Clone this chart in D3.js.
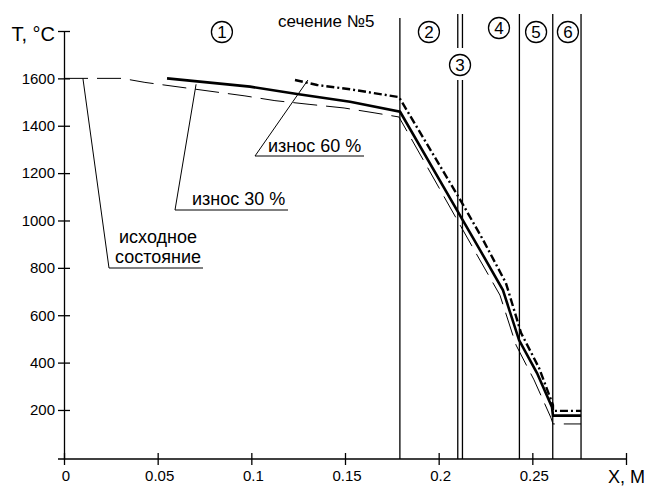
<!DOCTYPE html>
<html>
<head>
<meta charset="utf-8">
<script src="https://cdn.jsdelivr.net/npm/d3@7"></script>
<style>
body { margin: 0; background: #fff; }
svg { display: block; font-family: "Liberation Sans", Arial, sans-serif; }
</style>
</head>
<body>
<svg id="chart" width="645" height="486"></svg>
<script>
// axis ticks
const xTicks = [0, 0.05, 0.1, 0.15, 0.2, 0.25, 0.3];
const xTickLabels = ["0", "0.05", "0.1", "0.15", "0.2", "0.25", "X, M"];
const yTicks = [200, 400, 600, 800, 1000, 1200, 1400, 1600, 1800];
const yTickLabels = ["200", "400", "600", "800", "1000", "1200", "1400", "1600", "T, °C"];

// исходное состояние (thin dashed)
const initialX = [0, 0.031, 0.0432, 0.0966, 0.1126, 0.1313, 0.1495, 0.166, 0.1788, 0.2087, 0.2205, 0.2327, 0.2413, 0.2509, 0.26, 0.261, 0.276];
const initialT = [1600, 1600, 1583, 1526, 1506, 1490, 1475, 1454, 1437, 1019, 854, 685, 474, 327, 166, 141, 141];

// износ 30 % (thick solid)
const wear30X = [0.055, 0.0993, 0.1244, 0.1527, 0.1794, 0.2103, 0.2221, 0.2343, 0.2429, 0.2525, 0.2605, 0.261, 0.276];
const wear30T = [1600, 1565, 1534, 1501, 1459, 1036, 875, 706, 495, 356, 212, 176, 176];

// износ 60 % (dash-dot)
const wear60X = [0.1233, 0.1351, 0.1527, 0.1788, 0.2119, 0.2237, 0.2359, 0.244, 0.2536, 0.261, 0.261, 0.276];
const wear60T = [1593, 1572, 1554, 1521, 1082, 918, 736, 525, 377, 221, 196, 196];

// section boundaries and zone numbers
const sectionX = [0.1793, 0.2102, 0.2127, 0.2431, 0.2609, 0.276];
const zoneNames = ["1", "2", "3", "4", "5", "6"];
const zoneX = [0.0843, 0.1948, 0.2114, 0.2322, 0.252, 0.269];
const zoneY = [32, 32, 65, 28, 32, 32];

// leader labels
const labelLines = [["исходное", "состояние"], ["износ 30 %"], ["износ 60 %"]];
const labelAnchorX = [0.0101, 0.0705, 0.1302];
const labelAnchorT = [1600, 1575, 1593];

const svg = d3.select("#chart");
const x = d3.scaleLinear().domain([0, 0.3]).range([64, 626]);
const y = d3.scaleLinear().domain([-7, 1800]).range([459, 31]);

svg.append("rect").attr("width", 645).attr("height", 486).attr("fill", "#fff");

// x axis
const gx = svg.append("g")
    .attr("transform", `translate(0,${y(-7)})`)
    .call(d3.axisBottom(x).tickValues(xTicks)
        .tickFormat((d, i) => xTickLabels[i])
        .tickSize(6).tickSizeOuter(0).tickPadding(5));
gx.select(".domain").attr("d", `M${x(0) - 6},0H${x(0.3)}`);
gx.selectAll(".tick line").attr("y1", -6).attr("y2", 6);
gx.selectAll(".tick text").attr("font-size", 15).attr("font-family", null).attr("dx", 1.5);
gx.selectAll(".tick text").filter((d, i) => i === xTicks.length - 1)
    .attr("font-size", 18).attr("dx", 0);

// y axis
const gy = svg.append("g")
    .attr("transform", `translate(${x(0)},0)`)
    .call(d3.axisLeft(y).tickValues(yTicks)
        .tickFormat((d, i) => yTickLabels[i])
        .tickSize(6).tickSizeOuter(0).tickPadding(3));
gy.selectAll(".tick line").attr("x1", 6).attr("x2", -6);
gy.selectAll(".tick text").attr("font-size", 15).attr("font-family", null);
gy.selectAll(".tick text").filter((d, i) => i === yTicks.length - 1)
    .attr("font-size", 20).attr("dy", "0.45em");
svg.selectAll(".domain, .tick line").attr("stroke", "#000").attr("stroke-width", 1.3);

// section lines
const gapTop = 48, gapBottom = 80;
sectionX.forEach((sx, i) => {
    const top = i === 0 ? 18 : 14;
    const segs = (i === 1 || i === 2) ? [[top, gapTop], [gapBottom, y(-7)]] : [[top, y(-7)]];
    segs.forEach(s => {
        svg.append("line")
            .attr("x1", x(sx)).attr("x2", x(sx))
            .attr("y1", s[0]).attr("y2", s[1])
            .attr("stroke", "#000").attr("stroke-width", 1.3);
    });
});

// curves
const line = d3.line().x(d => x(d[0])).y(d => y(d[1]));
svg.append("path").datum(d3.zip(initialX, initialT))
    .attr("d", line).attr("fill", "none")
    .attr("stroke", "#000").attr("stroke-width", 1)
    .attr("stroke-dasharray", "24,9");
svg.append("path").datum(d3.zip(wear30X, wear30T))
    .attr("d", line).attr("fill", "none")
    .attr("stroke", "#000").attr("stroke-width", 2.6);
svg.append("path").datum(d3.zip(wear60X, wear60T))
    .attr("d", line).attr("fill", "none")
    .attr("stroke", "#000").attr("stroke-width", 2.4)
    .attr("stroke-dasharray", "8,3,2,3");

// zone circles
const zones = svg.selectAll(".zone").data(zoneNames).enter().append("g")
    .attr("class", "zone")
    .attr("transform", (d, i) => `translate(${x(zoneX[i])},${zoneY[i]})`);
zones.append("ellipse").attr("rx", 10.5).attr("ry", 10.5)
    .attr("fill", "#fff").attr("stroke", "#000").attr("stroke-width", 1.3);
zones.append("text").text(d => d)
    .attr("text-anchor", "middle").attr("dy", "0.36em")
    .attr("font-size", 17);

svg.append("text").text("сечение №5")
    .attr("x", 278).attr("y", 27).attr("font-size", 17);

// leader labels: elbow point, underline end, text start, baselines
const leaderLayout = [
    { ex: 109, ey: 268, ux: 203, tx: 158, anchor: "middle", base: [243, 263] },
    { ex: 175, ey: 210, ux: 288, tx: 192, anchor: "start", base: [205] },
    { ex: 255, ey: 156, ux: 364, tx: 268, anchor: "start", base: [152] }
];
labelLines.forEach((lines, i) => {
    const l = leaderLayout[i];
    svg.append("path")
        .attr("d", `M${x(labelAnchorX[i])},${y(labelAnchorT[i])}L${l.ex},${l.ey}H${l.ux}`)
        .attr("fill", "none").attr("stroke", "#000").attr("stroke-width", 1);
    lines.forEach((t, j) => {
        svg.append("text").text(t)
            .attr("x", l.tx).attr("y", l.base[j])
            .attr("text-anchor", l.anchor).attr("font-size", 18);
    });
});
</script>
</body>
</html>
